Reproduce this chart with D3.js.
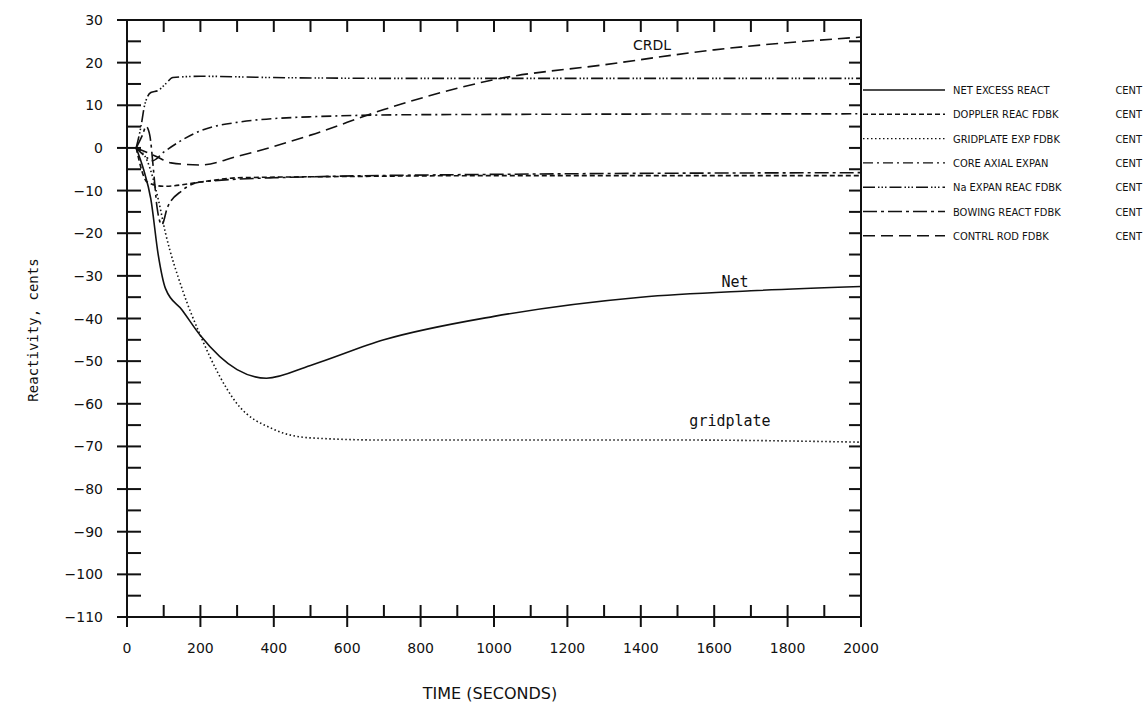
<!DOCTYPE html>
<html><head><meta charset="utf-8">
<script src="https://cdn.jsdelivr.net/npm/d3@7"></script>
<style>body{margin:0;background:#fff}text{fill:#111}</style>
</head><body>
<svg id="c" width="1147" height="707"></svg>
<script>
// data: [time s, cents]
var net = [[25,0],[45,-5],[65,-12],[85,-25],[105,-33],[150,-38],[200,-44],[300,-52],[380,-54],[500,-51],[700,-45],[1000,-39.5],[1400,-35],[1700,-33.5],[2000,-32.5]];
var doppler = [[25,0],[55,-8],[100,-9],[200,-8],[300,-7],[600,-6.7],[1000,-6.5],[2000,-6.5]];
var gridplate = [[25,0],[55,-3],[85,-12],[105,-20],[150,-33],[200,-44],[300,-60],[400,-66],[500,-68],[700,-68.5],[1000,-68.5],[1500,-68.5],[2000,-69]];
var coreAxial = [[25,0],[50,-2],[70,-3],[100,-1],[200,4],[300,6],[500,7.3],[800,7.8],[2000,8]];
var naExpan = [[25,0],[38,5],[48,10],[65,13],[85,13.5],[105,15],[125,16.5],[200,16.8],[400,16.5],[800,16.3],[2000,16.3]];
var bowing = [[25,0],[42,3],[52,5],[62,3],[72,-5],[82,-14],[95,-18],[110,-14],[150,-10],[200,-8],[400,-7],[1000,-6.2],[2000,-5.8]];
var controlRod = [[25,0],[80,-2],[120,-3.5],[200,-4],[300,-2],[500,3],[700,9],[900,14],[1000,16],[1300,19.5],[1600,23],[2000,26]];
var legendNames = ["NET EXCESS REACT","DOPPLER REAC FDBK","GRIDPLATE EXP FDBK","CORE AXIAL EXPAN","Na  EXPAN REAC FDBK","BOWING REACT FDBK","CONTRL ROD FDBK"];
var xTicks = d3.range(0, 2001, 200);
var yTicks = d3.range(-110, 31, 10);

var svg = d3.select("#c");
var x = d3.scaleLinear().domain([0, 2000]).range([127, 861]);
var y = d3.scaleLinear().domain([-110, 30]).range([617, 20]);

var series = [
  {d: net, dash: null},
  {d: doppler, dash: "5,3"},
  {d: gridplate, dash: "1.5,2.5"},
  {d: coreAxial, dash: "10,4,2,4"},
  {d: naExpan, dash: "12,3,1.5,2,1.5,2,1.5,3"},
  {d: bowing, dash: "14,4,3,4"},
  {d: controlRod, dash: "12,6"}
];

// frame
svg.append("rect").attr("x", x(0)).attr("y", y(30)).attr("width", x(2000) - x(0)).attr("height", y(-110) - y(30))
  .attr("fill", "none").attr("stroke", "#111").attr("stroke-width", 2);

var g = svg.append("g").attr("stroke", "#111").attr("stroke-width", 2);
d3.range(0, 2001, 100).forEach(function(t) {
  var major = t % 200 === 0;
  g.append("line").attr("x1", x(t)).attr("x2", x(t)).attr("y1", y(-110) + (major ? 10 : 0)).attr("y2", y(-110) - 12);
  g.append("line").attr("x1", x(t)).attr("x2", x(t)).attr("y1", y(30)).attr("y2", y(30) + 12);
});
d3.range(-110, 31, 5).forEach(function(v) {
  var major = v % 10 === 0;
  g.append("line").attr("x1", x(0) - (major ? 10 : 0)).attr("x2", x(0) + 14).attr("y1", y(v)).attr("y2", y(v));
  g.append("line").attr("x1", x(2000)).attr("x2", x(2000) - 12).attr("y1", y(v)).attr("y2", y(v));
});

svg.append("g").selectAll("text").data(xTicks).join("text")
  .attr("x", function(d) { return x(d); }).attr("y", 653).attr("text-anchor", "middle")
  .attr("font-family", "DejaVu Sans").attr("font-size", 14).text(function(d) { return d; });
svg.append("g").selectAll("text").data(yTicks).join("text")
  .attr("x", 103).attr("y", function(d) { return y(d) + 5; }).attr("text-anchor", "end")
  .attr("font-family", "DejaVu Sans").attr("font-size", 14)
  .text(function(d) { return d < 0 ? "\u2212" + (-d) : d; });

svg.append("text").attr("x", 490).attr("y", 699).attr("text-anchor", "middle")
  .attr("font-family", "DejaVu Sans").attr("font-size", 16).text("TIME  (SECONDS)");
svg.append("text").attr("transform", "translate(38,330) rotate(-90)").attr("text-anchor", "middle")
  .attr("font-family", "DejaVu Sans Mono").attr("font-size", 14).text("Reactivity, cents");

var line = d3.line().x(function(p) { return x(p[0]); }).y(function(p) { return y(p[1]); }).curve(d3.curveMonotoneX);
svg.append("g").selectAll("path").data(series).join("path")
  .attr("d", function(s) { return line(s.d); }).attr("fill", "none").attr("stroke", "#111")
  .attr("stroke-width", 1.6).attr("stroke-dasharray", function(s) { return s.dash; });

svg.append("text").attr("x", 652).attr("y", 50).attr("text-anchor", "middle").attr("font-family", "DejaVu Sans").attr("font-size", 14).text("CRDL");
svg.append("text").attr("x", 735).attr("y", 287).attr("text-anchor", "middle").attr("font-family", "DejaVu Sans Mono").attr("font-size", 15).text("Net");
svg.append("text").attr("x", 730).attr("y", 426).attr("text-anchor", "middle").attr("font-family", "DejaVu Sans Mono").attr("font-size", 15).text("gridplate");

var lg = svg.append("g").selectAll("g").data(series).join("g")
  .attr("transform", function(s, i) { return "translate(0," + (90 + i * 24.3) + ")"; });
lg.append("line").attr("x1", 863).attr("x2", 945).attr("stroke", "#111").attr("stroke-width", 1.4)
  .attr("stroke-dasharray", function(s) { return s.dash; });
lg.append("text").attr("x", 953).attr("y", 4).attr("font-family", "DejaVu Sans Condensed").attr("font-size", 11)
  .text(function(s, i) { return legendNames[i]; });
lg.append("text").attr("x", 1142).attr("y", 4).attr("text-anchor", "end").attr("font-family", "DejaVu Sans Condensed").attr("font-size", 11).text("CENT");
</script>
</body></html>
